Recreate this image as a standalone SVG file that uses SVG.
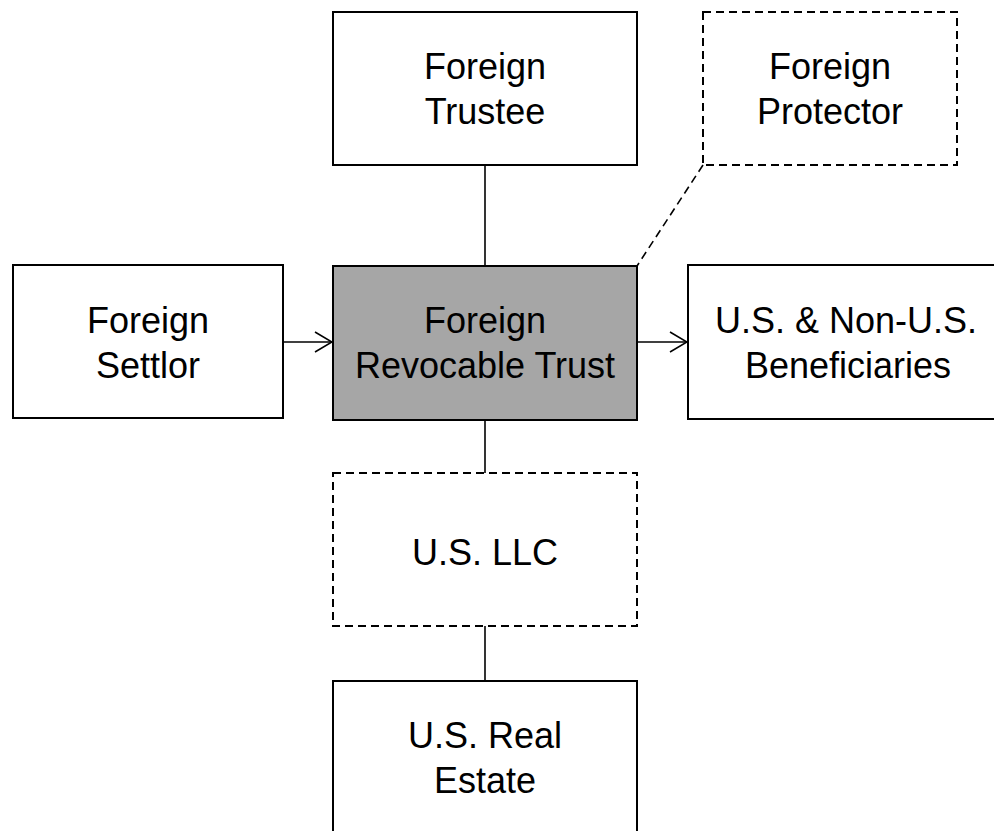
<svg xmlns="http://www.w3.org/2000/svg" width="994" height="831" viewBox="0 0 994 831">
<defs>
<marker id="arr" viewBox="0 0 20 24" refX="19" refY="12" markerWidth="20" markerHeight="24" markerUnits="userSpaceOnUse" orient="auto">
<path d="M2,2 L19,12 L2,22" fill="none" stroke="#000" stroke-width="1.6"/>
</marker>
</defs>
<style>
.box{fill:#fff;stroke:#000;stroke-width:2}
.dash{fill:#fff;stroke:#000;stroke-width:2;stroke-dasharray:8,5}
.main{fill:#a6a6a6;stroke:#000;stroke-width:2}
.t{font-family:"Liberation Sans",Arial,sans-serif;font-size:36px;fill:#000;text-anchor:middle}
.ln{stroke:#000;stroke-width:1.6;fill:none}
.dl{stroke:#000;stroke-width:1.6;fill:none;stroke-dasharray:8,5}
</style>
<rect width="994" height="831" fill="#fff"/>
<g id="connectors">
<line class="ln" x1="485" y1="165" x2="485" y2="266"/>
<line class="dl" x1="703" y1="165" x2="637" y2="266"/>
<line class="ln" x1="283" y1="342" x2="332" y2="342" marker-end="url(#arr)"/>
<line class="ln" x1="637" y1="342" x2="687" y2="342" marker-end="url(#arr)"/>
<line class="ln" x1="485" y1="420" x2="485" y2="473"/>
<line class="ln" x1="485" y1="626" x2="485" y2="681"/>
</g>
<g id="foreign-trustee">
<rect class="box" x="333" y="12" width="304" height="153"/>
<text class="t" x="485" y="79">Foreign</text>
<text class="t" x="485" y="124">Trustee</text>
</g>
<g id="foreign-protector">
<rect class="dash" x="703" y="12" width="254" height="153"/>
<text class="t" x="830" y="79">Foreign</text>
<text class="t" x="830" y="124">Protector</text>
</g>
<g id="foreign-settlor">
<rect class="box" x="13" y="265" width="270" height="153"/>
<text class="t" x="148" y="333">Foreign</text>
<text class="t" x="148" y="378">Settlor</text>
</g>
<g id="foreign-revocable-trust">
<rect class="main" x="333" y="266" width="304" height="154"/>
<text class="t" x="485" y="333">Foreign</text>
<text class="t" x="485" y="378">Revocable Trust</text>
</g>
<g id="beneficiaries">
<rect class="box" x="688" y="265" width="320" height="154"/>
<text class="t" x="846" y="333">U.S. &amp; Non-U.S.</text>
<text class="t" x="848" y="378">Beneficiaries</text>
</g>
<g id="us-llc">
<rect class="dash" x="333" y="473" width="304" height="153"/>
<text class="t" x="485" y="565">U.S. LLC</text>
</g>
<g id="us-real-estate">
<rect class="box" x="333" y="681" width="304" height="170"/>
<text class="t" x="485" y="748">U.S. Real</text>
<text class="t" x="485" y="793">Estate</text>
</g>
</svg>
